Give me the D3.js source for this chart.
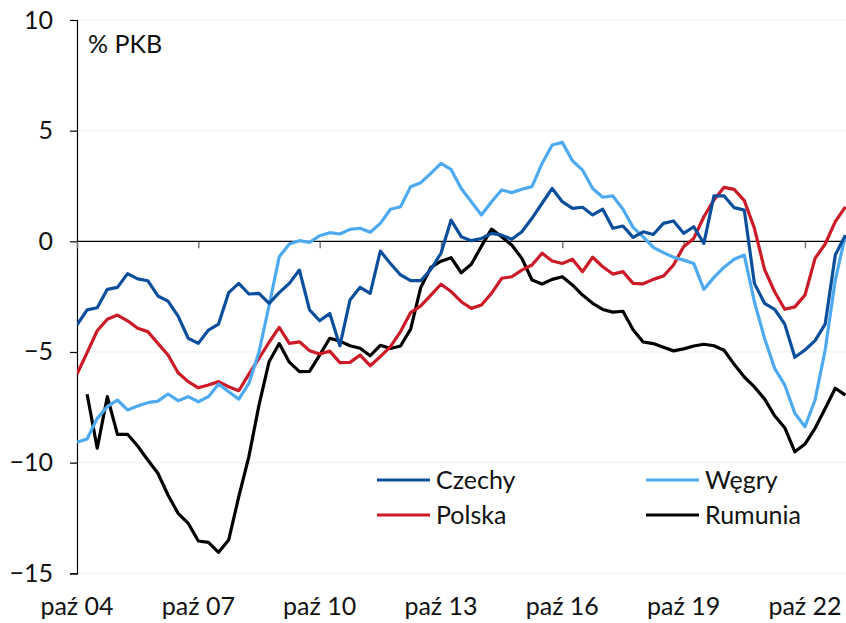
<!DOCTYPE html>
<html>
<head>
<meta charset="utf-8">
<script src="https://cdn.jsdelivr.net/npm/d3@7"></script>
<style>
  html, body { margin: 0; padding: 0; background: #fff; }
  svg { display: block; font-family: Lato, "Open Sans", sans-serif; }
</style>
</head>
<body>
<svg id="chart" width="846" height="623"></svg>
<script>
// ---- data (quarterly, from Q4 2004) ----
const xTickLabels = ["paź 04", "paź 07", "paź 10", "paź 13", "paź 16", "paź 19", "paź 22"];
const xTickIndex = [0, 12, 24, 36, 48, 60, 72];
const yTicks = [-15, -10, -5, 0, 5, 10];
const unitLabel = "% PKB";

const czechy = [-3.78,-3.10,-3.0,-2.17,-2.08,-1.46,-1.70,-1.78,-2.47,-2.70,-3.38,-4.38,-4.61,-4.01,-3.74,-2.32,-1.90,-2.38,-2.35,-2.80,
  -2.32,-1.90,-1.30,-3.10,-3.59,-3.26,-4.72,-2.65,-2.08,-2.35,-0.44,-1.0,-1.52,-1.78,-1.78,-1.27,-0.54,0.96,0.21,0.03,
  0.13,0.36,0.28,0.09,0.43,1.04,1.72,2.39,1.79,1.49,1.54,1.19,1.45,0.59,0.69,0.18,0.43,0.31,0.81,0.92,
  0.36,0.66,-0.09,2.06,2.05,1.52,1.41,-1.90,-2.80,-3.07,-3.74,-5.24,-4.91,-4.49,-3.74,-0.62,0.28];
const wegry = [-9.08,-8.93,-8.0,-7.47,-7.17,-7.62,-7.44,-7.29,-7.22,-6.90,-7.20,-7.02,-7.25,-7.02,-6.45,-6.80,-7.13,-6.42,-5.0,-2.9,
  -0.7,-0.12,0.03,-0.05,0.25,0.39,0.33,0.54,0.59,0.41,0.81,1.45,1.56,2.47,2.65,3.07,3.52,3.25,2.39,1.79,
  1.19,1.79,2.32,2.20,2.35,2.47,3.52,4.35,4.47,3.64,3.22,2.39,1.99,2.05,1.45,0.63,0.2,-0.27,-0.51,-0.72,
  -0.85,-1.0,-2.17,-1.63,-1.17,-0.81,-0.62,-2.73,-4.38,-5.74,-6.49,-7.77,-8.38,-7.17,-4.91,-1.75,0.28];
const polska = [-6.0,-5.03,-4.04,-3.52,-3.33,-3.59,-3.93,-4.08,-4.61,-5.14,-5.94,-6.34,-6.62,-6.49,-6.34,-6.57,-6.75,-6.0,-5.29,-4.56,
  -3.89,-4.61,-4.54,-4.94,-5.09,-4.96,-5.48,-5.47,-5.14,-5.62,-5.21,-4.76,-4.08,-3.22,-2.92,-2.43,-1.94,-2.27,-2.73,-3.03,
  -2.88,-2.35,-1.67,-1.60,-1.30,-1.07,-0.54,-0.89,-1.0,-0.81,-1.37,-0.72,-1.15,-1.48,-1.37,-1.90,-1.92,-1.72,-1.57,-1.07,
  -0.24,0.13,1.11,1.87,2.44,2.35,1.84,0.59,-1.27,-2.28,-3.07,-2.96,-2.43,-0.77,-0.12,0.89,1.56];
const rumunia = [null,-6.91,-9.35,-7.02,-8.72,-8.72,-9.25,-9.88,-10.48,-11.46,-12.29,-12.74,-13.54,-13.60,-14.05,-13.50,-11.54,-9.73,-7.40,-5.44,
  -4.62,-5.46,-5.89,-5.88,-5.14,-4.38,-4.51,-4.72,-4.83,-5.17,-4.70,-4.84,-4.73,-3.97,-2.08,-1.18,-0.90,-0.74,-1.42,-1.04,
  -0.22,0.55,0.21,-0.17,-0.77,-1.75,-1.93,-1.72,-1.60,-1.97,-2.43,-2.80,-3.08,-3.20,-3.16,-4.0,-4.55,-4.62,-4.79,-4.95,
  -4.86,-4.73,-4.65,-4.72,-4.92,-5.56,-6.13,-6.58,-7.12,-7.88,-8.42,-9.51,-9.16,-8.45,-7.55,-6.64,-6.95];

const seriesNames = ["Czechy", "Węgry", "Polska", "Rumunia"];
const seriesColors = ["#0b4f9c", "#4eaaf0", "#cc1b26", "#000000"];
const seriesValues = [czechy, wegry, polska, rumunia];

// ---- layout ----
const svg = d3.select("#chart");
const mLeft = 77, mRight = 845.4, mTop = 20, mBottom = 573.3;

const x = d3.scaleLinear().domain([0, 76]).range([mLeft, mRight]);
const y = d3.scaleLinear().domain([-15, 10]).range([mBottom, mTop]);

// grid lines
svg.append("g")
  .selectAll("line")
  .data(yTicks.filter(v => v !== 0))
  .join("line")
  .attr("x1", mLeft).attr("x2", 846)
  .attr("y1", d => y(d)).attr("y2", d => y(d))
  .attr("stroke", "#f0f0f0").attr("stroke-width", 1);

// y axis
const yAxis = d3.axisLeft(y).tickValues(yTicks).tickSize(7).tickPadding(17).tickFormat(d3.format("d"));
const gy = svg.append("g").attr("transform", `translate(${mLeft},0)`).call(yAxis);
gy.select(".domain").attr("stroke", "#000").attr("stroke-width", 1.2);
gy.selectAll(".tick line").attr("stroke", "#000").attr("stroke-width", 1.2);
gy.selectAll(".tick text").attr("font-size", 25).attr("fill", "#111")
  .attr("font-family", "Lato, sans-serif");

// x axis at zero
const xAxis = d3.axisBottom(x).tickValues(xTickIndex).tickSize(7)
  .tickFormat(() => "");
const gx = svg.append("g").attr("transform", `translate(0,${y(0)})`).call(xAxis);
gx.select(".domain").remove();
gx.selectAll(".tick line").attr("stroke", "#777").attr("stroke-width", 1.5);
svg.append("line")
  .attr("x1", mLeft).attr("x2", 846).attr("y1", y(0)).attr("y2", y(0))
  .attr("stroke", "#000").attr("stroke-width", 1.2);

// x labels at bottom
svg.append("g")
  .selectAll("text")
  .data(xTickIndex)
  .join("text")
  .attr("x", d => x(d))
  .attr("y", 615)
  .attr("text-anchor", "middle")
  .attr("font-size", 25)
  .attr("fill", "#111")
  .text((d, i) => xTickLabels[i]);

// unit label
svg.append("text").attr("x", 88).attr("y", 53).attr("font-size", 25).attr("fill", "#111").text(unitLabel);

// lines
const line = d3.line()
  .defined(d => d != null)
  .x((d, i) => x(i))
  .y(d => y(d));

svg.append("defs").append("clipPath").attr("id", "clip")
  .append("rect").attr("x", mLeft).attr("y", 0).attr("width", 846 - mLeft).attr("height", 623);

const order = [3, 2, 1, 0];
svg.append("g").attr("clip-path", "url(#clip)")
  .selectAll("path")
  .data(order)
  .join("path")
  .attr("d", k => line(seriesValues[k]))
  .attr("fill", "none")
  .attr("stroke", k => seriesColors[k])
  .attr("stroke-width", 3.2)
  .attr("stroke-linejoin", "round");

// legend
const legendPos = [[377, 480], [646, 480], [377, 515], [646, 515]];
const lg = svg.append("g").selectAll("g").data(seriesNames).join("g")
  .attr("transform", (d, i) => `translate(${legendPos[i][0]},${legendPos[i][1]})`);
lg.append("line").attr("x1", 0).attr("x2", 53).attr("y1", 0).attr("y2", 0)
  .attr("stroke", (d, i) => seriesColors[i]).attr("stroke-width", 3.2);
lg.append("text").attr("x", 59).attr("y", 8.5).attr("font-size", 25).attr("fill", "#111").text(d => d);
</script>
</body>
</html>
